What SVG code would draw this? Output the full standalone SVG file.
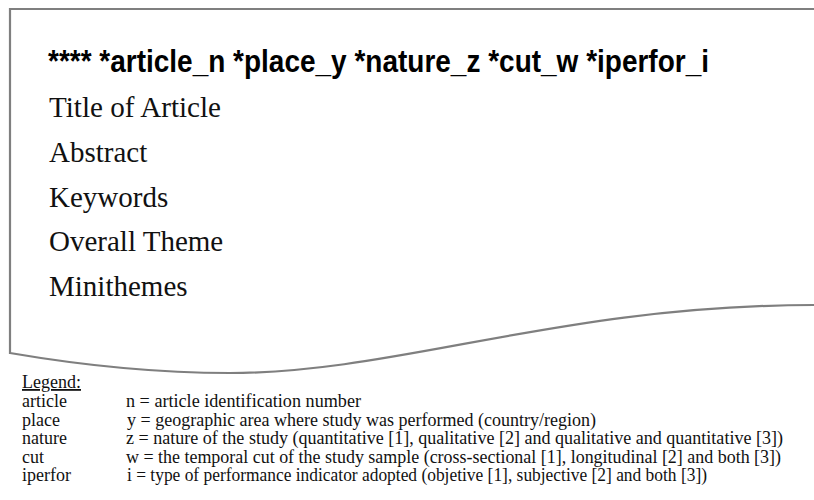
<svg xmlns="http://www.w3.org/2000/svg" width="814" height="500" viewBox="0 0 814 500">
<style>
.frame{fill:#ffffff;stroke:#7f7f7f;stroke-width:2.2}
.head{font-family:"Liberation Sans",Arial,sans-serif;font-weight:bold;font-size:31px;fill:#000}
.item{font-family:"Liberation Serif","Times New Roman",serif;font-size:29px;fill:#111}
.leg{font-family:"Liberation Serif","Times New Roman",serif;font-size:18px;fill:#111}
</style>
<rect width="814" height="500" fill="#ffffff"/>
<g id="document">
<path class="frame" d="M816,9 H10 V353 C80,365 160,373 230,373 C400,373 560,305 816,305"/>
<text class="head" x="48" y="72" textLength="661" lengthAdjust="spacingAndGlyphs">**** *article_n *place_y *nature_z *cut_w *iperfor_i</text>
<text class="item" x="49" y="117" textLength="172" lengthAdjust="spacingAndGlyphs">Title of Article</text>
<text class="item" x="49" y="162">Abstract</text>
<text class="item" x="49" y="207">Keywords</text>
<text class="item" x="49" y="251">Overall Theme</text>
<text class="item" x="49" y="296">Minithemes</text>
</g>
<g id="legend">
<text class="leg" x="22" y="388" text-decoration="underline">Legend:</text>
<text class="leg" x="22" y="407">article</text>
<text class="leg" x="126" y="407" textLength="235" lengthAdjust="spacingAndGlyphs">n = article identification number</text>
<text class="leg" x="22" y="425.5">place</text>
<text class="leg" x="127" y="425.5" textLength="469" lengthAdjust="spacingAndGlyphs">y = geographic area where study was performed (country/region)</text>
<text class="leg" x="22" y="444">nature</text>
<text class="leg" x="126" y="444" textLength="657" lengthAdjust="spacingAndGlyphs">z = nature of the study (quantitative [1], qualitative [2] and qualitative and quantitative [3])</text>
<text class="leg" x="22" y="462.5">cut</text>
<text class="leg" x="126" y="462.5" textLength="655" lengthAdjust="spacingAndGlyphs">w = the temporal cut of the study sample (cross-sectional [1], longitudinal [2] and both [3])</text>
<text class="leg" x="22" y="481">iperfor</text>
<text class="leg" x="127" y="481" textLength="580" lengthAdjust="spacingAndGlyphs">i = type of performance indicator adopted (objetive [1], subjective [2]  and both [3])</text>
</g>
</svg>
